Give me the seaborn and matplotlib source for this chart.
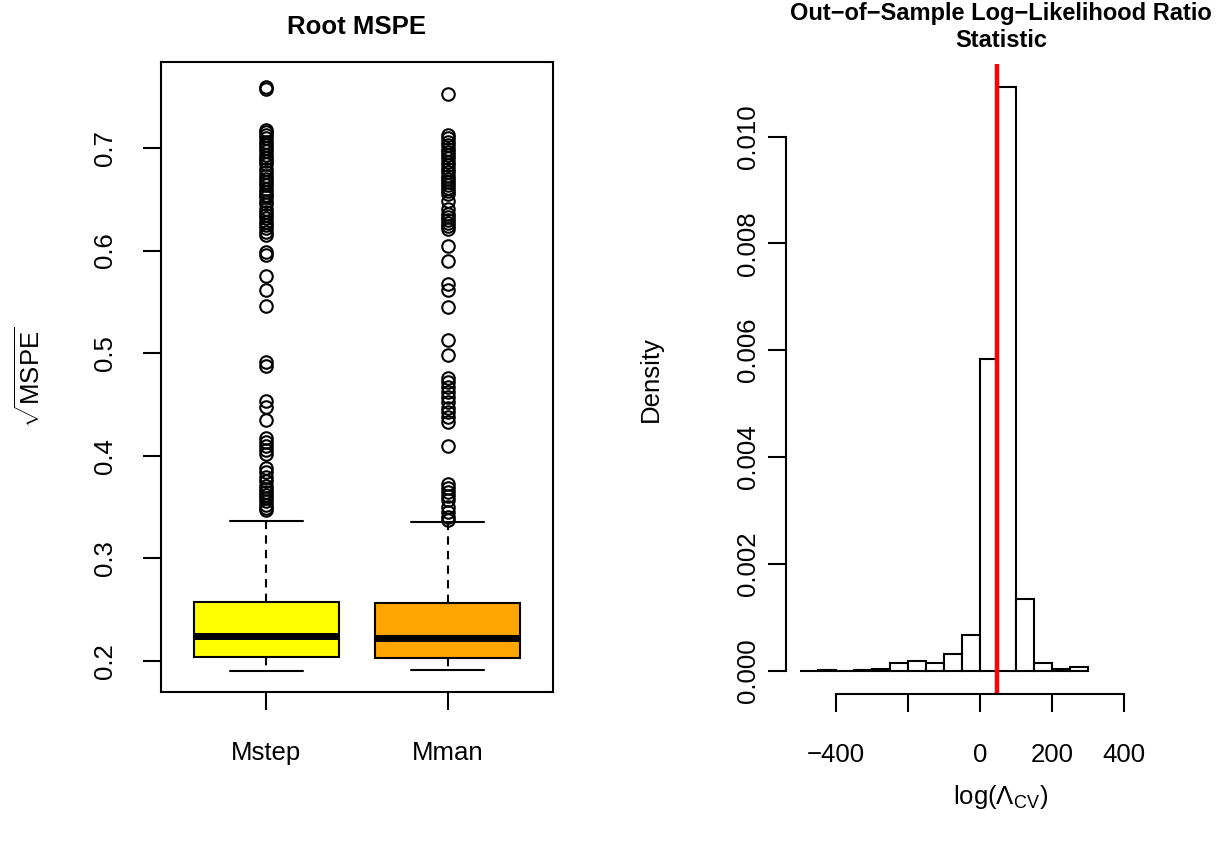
import matplotlib
matplotlib.use("Agg")
import matplotlib.pyplot as plt
import seaborn as sns

# left panel: box summaries
groups = ["Mstep", "Mman"]
box_colors = ["#FFFF00", "#FFA500"]
whisker_low = [0.1905, 0.1912]
q1 = [0.2042, 0.2026]
medians = [0.2243, 0.2221]
q3 = [0.2575, 0.2565]
whisker_high = [0.3368, 0.3358]

mstep_outliers = [
    0.759, 0.757,
    0.718, 0.716, 0.713, 0.710, 0.706, 0.703, 0.700, 0.697, 0.693, 0.690,
    0.687, 0.684, 0.680, 0.677, 0.673, 0.670, 0.667, 0.664, 0.660, 0.657,
    0.654, 0.652, 0.648, 0.645, 0.641, 0.638, 0.635, 0.632, 0.628, 0.625,
    0.622, 0.618, 0.615,
    0.599, 0.596, 0.575, 0.562, 0.546,
    0.491, 0.488, 0.453, 0.448, 0.435,
    0.417, 0.413, 0.410, 0.406, 0.402, 0.388, 0.384,
    0.379, 0.375, 0.371, 0.368, 0.365, 0.362, 0.359, 0.356, 0.352, 0.349,
    0.347,
]
mman_outliers = [
    0.753,
    0.713, 0.710, 0.706, 0.703, 0.699, 0.696, 0.693, 0.690, 0.686, 0.683,
    0.680, 0.677, 0.673, 0.670, 0.667, 0.664, 0.661, 0.658, 0.655, 0.648,
    0.641, 0.636, 0.633, 0.630, 0.627, 0.624, 0.621,
    0.604, 0.590, 0.567, 0.562, 0.545, 0.513, 0.498,
    0.476, 0.472, 0.467, 0.462, 0.457, 0.452, 0.447, 0.443, 0.438, 0.433,
    0.410,
    0.373, 0.369, 0.365, 0.361, 0.357, 0.350, 0.345, 0.340, 0.337,
]

# right panel: histogram of the out-of-sample statistic
bin_edges = [-500, -450, -400, -350, -300, -250, -200, -150, -100, -50,
             0, 50, 100, 150, 200, 250, 300]
densities = [0.0, 0.00002, 0.0, 0.00001, 0.00004, 0.00014, 0.00018,
             0.00015, 0.00032, 0.00067, 0.00583, 0.01092, 0.00135,
             0.00014, 0.00004, 0.00006]
observed_stat = 48
hist_xticks = [-400, -200, 0, 200, 400]
hist_xticklabels = ["\u2212400", "", "0", "200", "400"]
hist_yticks = [0.0, 0.002, 0.004, 0.006, 0.008, 0.010]

sns.set_style("ticks")
plt.rcParams["font.family"] = ["Liberation Sans", "DejaVu Sans"]
plt.rcParams["mathtext.fontset"] = "custom"
plt.rcParams["mathtext.rm"] = "Liberation Sans"
plt.rcParams["mathtext.it"] = "Liberation Sans:italic"
plt.rcParams["mathtext.bf"] = "Liberation Sans:bold"
plt.rcParams["text.color"] = "black"
plt.rcParams["axes.labelcolor"] = "black"
plt.rcParams["xtick.color"] = "black"
plt.rcParams["ytick.color"] = "black"

FS = 18.5
W, H = 1222, 842

fig = plt.figure(figsize=(W / 100, H / 100), dpi=100)
ax1 = fig.add_axes([161 / W, 1 - 692 / H, 392 / W, 630 / H])
ax2 = fig.add_axes([786 / W, 1 - 694 / H, 430 / W, 630 / H])

# ---- boxplot ----
stats = []
for i, g in enumerate(groups):
    stats.append(dict(
        label=g,
        whislo=whisker_low[i],
        q1=q1[i],
        med=medians[i],
        q3=q3[i],
        whishi=whisker_high[i],
        fliers=[mstep_outliers, mman_outliers][i],
    ))

bp = ax1.bxp(
    stats,
    positions=[1, 2],
    widths=0.8,
    capwidths=0.4,
    patch_artist=True,
    boxprops=dict(edgecolor="black", linewidth=1.5),
    medianprops=dict(color="black", linewidth=5),
    whiskerprops=dict(color="black", linestyle=(0, (4, 3)), linewidth=1.5),
    capprops=dict(color="black", linewidth=1.5),
    flierprops=dict(marker="o", markerfacecolor="none",
                    markeredgecolor="black", markersize=9,
                    markeredgewidth=1.5),
)
for patch, c in zip(bp["boxes"], box_colors):
    patch.set_facecolor(c)

ax1.set_xlim(0.42, 2.58)
ax1.set_ylim(0.1698, 0.7838)
ax1.set_yticks([0.2, 0.3, 0.4, 0.5, 0.6, 0.7])
ax1.set_yticklabels(["0.2", "0.3", "0.4", "0.5", "0.6", "0.7"],
                    rotation=90, va="center")
ax1.set_xticks([1, 2])
ax1.set_xticklabels(groups)
for s in ax1.spines.values():
    s.set_linewidth(1.5)
    s.set_color("black")
ax1.tick_params(axis="both", length=13, width=1.5, labelsize=FS,
                color="black")
ax1.tick_params(axis="y", pad=19)
ax1.tick_params(axis="x", pad=22)
ax1.set_title("Root MSPE", fontsize=FS, fontweight="bold",
              y=1.0556, va="center", pad=0)
ax1.set_ylabel(r"$\sqrt{\mathrm{MSPE}}$", fontsize=FS, va="center")
ax1.yaxis.set_label_coords((30 - 161) / 392, 0.5)

# ---- histogram ----
mids = [(a + b) / 2 for a, b in zip(bin_edges[:-1], bin_edges[1:])]
sns.histplot(
    x=mids,
    weights=densities,
    bins=bin_edges,
    stat="count",
    color="white",
    edgecolor="black",
    linewidth=1.5,
    alpha=1,
    ax=ax2,
)
ax2.axvline(observed_stat, color="red", linewidth=3.2)

ax2.set_xlim(-539, 655)
ax2.set_ylim(-0.000437, 0.01136)
ax2.set_xticks(hist_xticks)
ax2.set_xticklabels(hist_xticklabels)
ax2.set_yticks(hist_yticks)
ax2.set_yticklabels([f"{v:.3f}" for v in hist_yticks], rotation=90,
                    va="center")
sns.despine(ax=ax2)
ax2.spines["left"].set_bounds(0.0, 0.010)
ax2.spines["bottom"].set_bounds(-400, 400)
for s in ax2.spines.values():
    s.set_linewidth(1.5)
    s.set_color("black")
ax2.tick_params(axis="both", length=13, width=1.5, labelsize=FS,
                color="black")
ax2.tick_params(axis="y", pad=6)
ax2.tick_params(axis="x", pad=22)
ax2.set_title("Out\u2212of\u2212Sample Log\u2212Likelihood Ratio\nStatistic",
              fontsize=17, fontweight="bold", y=(694 - 27) / 630,
              va="center", pad=0, linespacing=1.25)
ax2.set_ylabel("Density", fontsize=FS, va="center")
ax2.yaxis.set_label_coords((651 - 786) / 430, 0.5)
ax2.set_xlabel(r"$\log(\Lambda_{\mathrm{CV}})$", fontsize=FS, va="center")
ax2.xaxis.set_label_coords(0.5, (694 - 797) / 630)

fig.savefig("out.png", dpi=100)
plt.close(fig)
